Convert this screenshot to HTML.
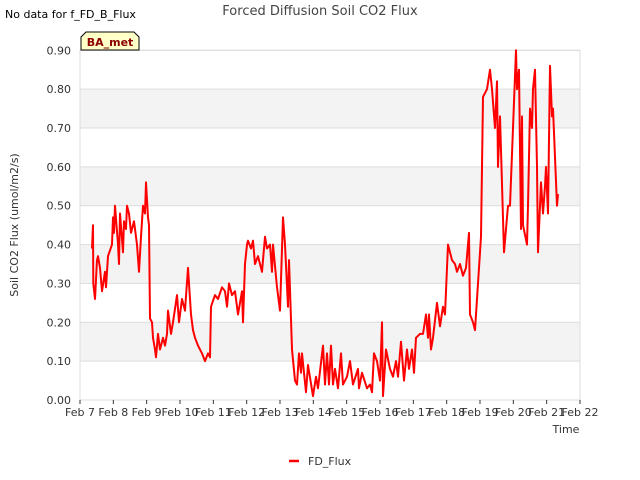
<!DOCTYPE html>
<html><head><meta charset="utf-8">
<style>
body{margin:0;background:#fff;font-family:"DejaVu Sans","Liberation Sans",sans-serif;}
svg{display:block}
</style></head>
<body>
<svg id="chart" width="640" height="480" xmlns="http://www.w3.org/2000/svg">
  <rect x="0" y="0" width="640" height="480" fill="#fff"/>
  <g id="bands"></g>
  <g id="grid"></g>
  <rect x="80" y="50.3" width="500" height="349.7" fill="none" stroke="#ddd"/>
  <g id="series"></g>
  <g id="xaxis"></g>
  <g id="yaxis"></g>
  <text x="320" y="15" text-anchor="middle" font-size="13" fill="#444">Forced Diffusion Soil CO2 Flux</text>
  <text x="5" y="18" font-size="11" fill="#000">No data for f_FD_B_Flux</text>
  <g>
    <path d="M81,50 L81,37 L86,32 L134,32 L139,37 L139,50 Z" fill="#ffffc8" stroke="#000" stroke-width="1"/>
    <text x="110" y="46" text-anchor="middle" font-size="11" font-weight="bold" fill="#8b0000">BA_met</text>
  </g>
  <text transform="translate(18,225) rotate(-90)" text-anchor="middle" font-size="11" fill="#333">Soil CO2 Flux (umol/m2/s)</text>
  <text x="566" y="433" text-anchor="middle" font-size="11" fill="#333">Time</text>
  <g>
    <line x1="289" y1="461" x2="299" y2="461" stroke="#f00" stroke-width="2.5"/>
    <text x="308" y="465" font-size="11" fill="#333">FD_Flux</text>
  </g>
</svg>
<script>
const days = [0.36,0.39,0.40,0.45,0.51,0.54,0.60,0.66,0.75,0.78,0.84,0.96,0.99,1.02,1.05,1.14,1.17,1.20,1.29,1.32,1.38,1.41,1.47,1.53,1.62,1.71,1.77,1.83,1.89,1.95,1.98,2.04,2.07,2.10,2.16,2.19,2.25,2.28,2.34,2.40,2.49,2.55,2.61,2.64,2.73,2.79,2.91,2.97,3.06,3.15,3.24,3.33,3.39,3.45,3.54,3.66,3.75,3.84,3.90,3.93,4.05,4.14,4.26,4.35,4.41,4.47,4.56,4.65,4.74,4.86,4.89,4.95,5.01,5.04,5.13,5.19,5.25,5.34,5.46,5.55,5.61,5.70,5.76,5.79,5.91,6.00,6.09,6.15,6.24,6.27,6.36,6.45,6.51,6.57,6.63,6.66,6.78,6.84,6.99,7.08,7.14,7.29,7.35,7.41,7.47,
7.53,7.59,7.65,7.74,7.83,7.89,8.01,8.10,8.19,8.34,8.37,8.46,8.61,8.70,8.76,8.82,8.91,9.00,9.06,9.09,9.18,9.30,9.39,9.48,9.54,9.63,9.72,9.81,9.87,9.96,10.02,10.08,10.20,10.29,10.38,10.44,10.47,10.53,10.59,10.71,10.80,10.89,10.95,11.04,11.16,11.25,11.31,11.40,11.49,11.58,11.67,11.70,11.79,11.85,11.94,12.03,12.09,12.21,12.30,12.36,12.45,12.51,12.54,12.60,12.72,12.84,12.90,13.08,13.11,13.17,13.23,13.26,13.29,13.41,13.44,13.50,13.56,13.59,13.65,13.71,13.74,13.83,13.89,13.95,13.98,14.04,14.10,14.16,14.19,14.31,14.34];
const flux = [0.39,0.45,0.30,0.26,0.36,0.37,0.34,0.28,0.33,0.29,0.37,0.40,0.47,0.43,0.50,0.40,0.35,0.48,0.38,0.46,0.44,0.50,0.48,0.43,0.46,0.40,0.33,0.42,0.50,0.48,0.56,0.47,0.45,0.21,0.20,0.16,0.13,0.11,0.17,0.13,0.16,0.14,0.17,0.23,0.17,0.20,0.27,0.20,0.26,0.23,0.34,0.22,0.18,0.16,0.14,0.12,0.10,0.12,0.11,0.24,0.27,0.26,0.29,0.28,0.24,0.30,0.27,0.28,0.22,0.28,0.20,0.35,0.40,0.41,0.39,0.41,0.35,0.37,0.33,0.42,0.39,0.40,0.33,0.40,0.29,0.23,0.47,0.40,0.24,0.36,0.13,0.05,0.04,0.12,0.07,0.12,0.02,0.09,0.01,0.06,0.03,0.14,0.04,0.12,0.04,
0.14,0.04,0.08,0.03,0.12,0.04,0.06,0.10,0.04,0.08,0.03,0.07,0.03,0.04,0.02,0.12,0.10,0.05,0.20,0.01,0.13,0.08,0.06,0.10,0.06,0.15,0.05,0.13,0.08,0.13,0.07,0.16,0.17,0.17,0.22,0.16,0.22,0.13,0.16,0.25,0.19,0.24,0.22,0.40,0.36,0.35,0.33,0.35,0.32,0.34,0.43,0.22,0.20,0.18,0.30,0.42,0.78,0.80,0.85,0.80,0.70,0.82,0.60,0.73,0.38,0.50,0.50,0.90,0.80,0.85,0.44,0.73,0.45,0.40,0.50,0.75,0.70,0.80,0.85,0.60,0.38,0.56,0.48,0.55,0.60,0.48,0.86,0.73,0.75,0.50,0.53];
const xTickLabels = ["Feb 7","Feb 8","Feb 9","Feb 10","Feb 11","Feb 12","Feb 13","Feb 14","Feb 15","Feb 16","Feb 17","Feb 18","Feb 19","Feb 20","Feb 21","Feb 22"];
const yTicks = [0,0.1,0.2,0.3,0.4,0.5,0.6,0.7,0.8,0.9];

const NS="http://www.w3.org/2000/svg";
const X0=80,X1=580,Y0=400,Y1=50.3,DMAX=15,VMAX=0.9;
const xs=d=>X0+(X1-X0)*d/DMAX;
const ys=v=>Y0-(Y0-Y1)*v/VMAX;
function mk(tag,attrs,parent){const e=document.createElementNS(NS,tag);for(const k in attrs)e.setAttribute(k,attrs[k]);parent.appendChild(e);return e;}

const bands=document.getElementById('bands'),grid=document.getElementById('grid'),yax=document.getElementById('yaxis'),xax=document.getElementById('xaxis'),ser=document.getElementById('series');
for(let i=0;i<yTicks.length-1;i++){
  if(i%2===1){
    const r=mk('rect',{x:X0,y:ys(yTicks[i+1]),width:X1-X0,height:ys(yTicks[i])-ys(yTicks[i+1]),fill:'#f3f3f3'},bands);
    
    
  }
}
yTicks.forEach(v=>{
  const l=mk('line',{x1:X0,x2:X1,y1:ys(v),y2:ys(v),stroke:'#ddd','stroke-width':1},grid);
  
  
  const t=mk('text',{x:X0-9,y:ys(v)+4,'text-anchor':'end','font-size':11,fill:'#333'},yax);
  t.textContent=v.toFixed(2);
  
  
});
xTickLabels.forEach((lab,i)=>{
  const tk=mk('line',{x1:xs(i),x2:xs(i),y1:Y0,y2:Y0+4,stroke:'#333'},xax);
  
  
  const t=mk('text',{x:xs(i),y:Y0+16,'text-anchor':'middle','font-size':11,fill:'#333'},xax);
  t.textContent=lab;
  
  
});
const pts=days.map((d,i)=>xs(d).toFixed(1)+','+ys(flux[i]).toFixed(1)).join(' ');
const pl=mk('polyline',{points:pts,fill:'none',stroke:'#ff0000','stroke-width':2,'stroke-linejoin':'round'},ser);


</script>
</body></html>
